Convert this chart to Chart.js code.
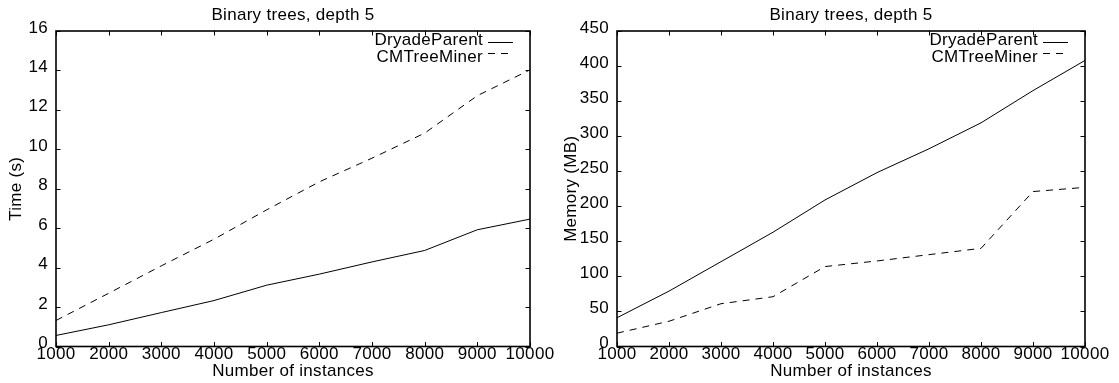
<!DOCTYPE html>
<html><head><meta charset="utf-8">
<script src="https://cdn.jsdelivr.net/npm/chart.js@4.4.1/dist/chart.umd.min.js"></script>
<style>
html,body{margin:0;padding:0;background:#fff;}
#wrap{position:relative;width:1119px;height:383px;overflow:hidden;}
canvas{position:absolute;top:0;}
</style></head><body>
<div id="wrap">
<canvas id="c1" width="560" height="383" style="left:0"></canvas>
<canvas id="c2" width="559" height="383" style="left:560px"></canvas>
</div>
<script>
// ---- data ----
const instances = ['1000','2000','3000','4000','5000','6000','7000','8000','9000','10000'];
const seriesNames = ['DryadeParent', 'CMTreeMiner'];
const timeDryade = [0.56, 1.10, 1.72, 2.33, 3.11, 3.67, 4.29, 4.87, 5.92, 6.46];
const timeCMTree = [1.32, 2.70, 4.09, 5.44, 6.93, 8.35, 9.55, 10.82, 12.72, 14.03];
const memDryade = [41, 79, 121, 163, 209, 248, 282, 319, 365, 408];
const memCMTree = [19, 36, 61, 71, 114, 122, 131, 140, 221, 227];
const timeTicks = {min: 0, max: 16, step: 2};
const memTicks = {min: 0, max: 450, step: 50};
const chartTitle = 'Binary trees, depth 5';
const xTitle = 'Number of instances';
const timeTitle = 'Time (s)';
const memTitle = 'Memory (MB)';

// ---- style ----
const FAMILY = "'Liberation Sans', Arial, Helvetica, sans-serif";
const FSIZE = 17;
const FONT = FSIZE + "px " + FAMILY;
const LS = '0.3px';
const DASH = [7, 6];

function framePlugin(o) {
  return {
    id: 'frame',
    beforeDraw(chart) { chart.ctx.letterSpacing = LS; },
    afterDraw(chart) {
      const ctx = chart.ctx, a = chart.chartArea;
      ctx.save();
      ctx.letterSpacing = LS;
      // inward ticks on all sides
      const xs = chart.scales.x, ys = chart.scales.y, TL = 4.5;
      ctx.strokeStyle = '#000';
      ctx.lineWidth = 1;
      ctx.beginPath();
      xs.ticks.forEach((t, i) => {
        const px = Math.round(xs.getPixelForTick(i)) + 0.5;
        ctx.moveTo(px, a.bottom); ctx.lineTo(px, a.bottom - TL);
        ctx.moveTo(px, a.top); ctx.lineTo(px, a.top + TL);
      });
      ys.ticks.forEach((t, i) => {
        const py = Math.round(ys.getPixelForTick(i)) + 0.5;
        ctx.moveTo(a.left, py); ctx.lineTo(a.left + TL, py);
        ctx.moveTo(a.right, py); ctx.lineTo(a.right - TL, py);
      });
      ctx.stroke();
      // frame
      ctx.lineWidth = 1.6;
      ctx.strokeRect(a.left, a.top, a.right - a.left, a.bottom - a.top);
      // titles
      ctx.fillStyle = '#000';
      ctx.font = FONT;
      ctx.textAlign = 'center';
      ctx.textBaseline = 'alphabetic';
      const cx = (a.left + a.right) / 2;
      ctx.fillText(chartTitle, cx, 19.5);
      ctx.fillText(xTitle, cx, 376);
      ctx.save();
      ctx.translate(o.yTitleX, (a.top + a.bottom) / 2);
      ctx.rotate(-Math.PI / 2);
      ctx.textBaseline = 'middle';
      ctx.fillText(o.yTitle, 0, 0);
      ctx.restore();
      // legend (top right, inside)
      ctx.textAlign = 'right';
      chart.data.datasets.forEach((ds, i) => {
        ctx.fillText(ds.label, a.right - 47, 45 + i * 16.5);
        const sy = Math.round(41.7 + i * 10.8) + 0.5;
        ctx.save();
        ctx.lineWidth = 1;
        ctx.strokeStyle = ds.borderColor;
        ctx.setLineDash(ds.borderDash || []);
        ctx.beginPath();
        ctx.moveTo(a.right - 42, sy);
        ctx.lineTo(a.right - 17, sy);
        ctx.stroke();
        ctx.restore();
      });
      ctx.restore();
    }
  };
}

function makeChart(id, d1, d2, ticks, yTitle, yTitleX, yWidth, padRight) {
  return new Chart(document.getElementById(id), {
    type: 'line',
    data: {
      labels: instances,
      datasets: [
        {label: seriesNames[0], data: d1, borderColor: '#000', borderWidth: 1, pointRadius: 0, tension: 0, fill: false},
        {label: seriesNames[1], data: d2, borderColor: '#000', borderWidth: 1, borderDash: DASH, pointRadius: 0, tension: 0, fill: false}
      ]
    },
    options: {
      responsive: false,
      devicePixelRatio: 1,
      animation: false,
      layout: {padding: {left: 0, right: padRight, top: 31, bottom: 0}},
      plugins: {legend: {display: false}, title: {display: false}, tooltip: {enabled: false}},
      scales: {
        x: {
          type: 'category',
          offset: false,
          grid: {display: false, drawTicks: false},
          border: {display: false},
          ticks: {autoSkip: false, maxRotation: 0, minRotation: 0, padding: -1, color: '#000',
                  font: {family: FAMILY, size: FSIZE, lineHeight: 1}},
          afterFit(s) { s.height = 383 - 346.5; }
        },
        y: {
          type: 'linear',
          min: ticks.min, max: ticks.max,
          grid: {display: false, drawTicks: false},
          border: {display: false},
          ticks: {stepSize: ticks.step, padding: 8, color: '#000',
                  font: {family: FAMILY, size: FSIZE, lineHeight: 0.375},
                  callback: v => [String(v), '']},
          afterFit(s) { s.width = yWidth; }
        }
      }
    },
    plugins: [framePlugin({yTitle, yTitleX})]
  });
}

makeChart('c1', timeDryade, timeCMTree, timeTicks, timeTitle, 16, 56, 30);
makeChart('c2', memDryade, memCMTree, memTicks, memTitle, 11, 57, 34);
</script>
</body></html>
